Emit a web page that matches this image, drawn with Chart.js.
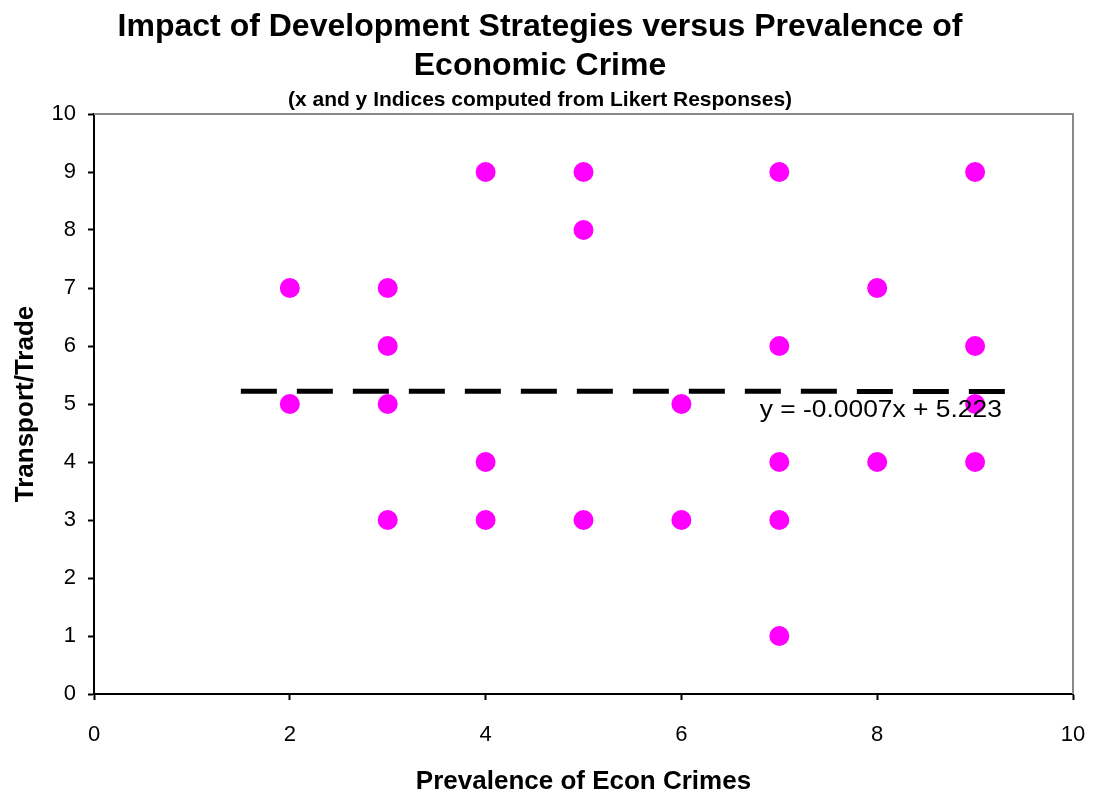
<!DOCTYPE html>
<html>
<head>
<meta charset="utf-8">
<title>Impact of Development Strategies versus Prevalence of Economic Crime</title>
<script src="https://cdn.jsdelivr.net/npm/chart.js@4.4.1/dist/chart.umd.min.js"></script>
<style>
  html, body { margin: 0; padding: 0; background: #ffffff; }
  #wrap { width: 1098px; height: 792px; }
</style>
</head>
<body>
<div id="wrap"><canvas id="chart" width="1098" height="792"></canvas></div>
<script>
// Survey indices (Likert-derived) for each respondent group
const crimeIndex     = [2, 2, 3, 3, 3, 3, 4, 4, 4, 5, 5, 5, 6, 6, 7, 7, 7, 7, 7, 8, 8, 9, 9, 9, 9];
const transportIndex = [7, 5, 7, 6, 5, 3, 9, 4, 3, 9, 8, 3, 5, 3, 9, 6, 4, 3, 1, 7, 4, 9, 6, 5, 4];

// Linear trend fitted to the indices
const trendSlope = -0.0007;
const trendIntercept = 5.223;
const trendSpan = [1.5, 9.34];
const trendLabelAt = [6.8, 4.776];

const titleLines = ['Impact of Development Strategies versus Prevalence of', 'Economic Crime'];
const subtitleText = '(x and y Indices computed from Likert Responses)';
const xAxisTitle = 'Prevalence of Econ Crimes';
const yAxisTitle = 'Transport/Trade';

const FONT = '"Liberation Sans", Arial, Helvetica, sans-serif';

const scatterPoints = crimeIndex.map((x, i) => ({ x: x, y: transportIndex[i] }));
const trendPoints = trendSpan.map(x => ({ x: x, y: trendSlope * x + trendIntercept }));
const trendText = 'y = ' + trendSlope + 'x + ' + trendIntercept;

// Headings above the plot
const headingPlugin = {
  id: 'headings',
  afterDraw(chart) {
    const ctx = chart.ctx;
    ctx.save();
    ctx.fillStyle = '#000';
    ctx.textAlign = 'center';
    ctx.textBaseline = 'alphabetic';
    ctx.font = 'bold 32px ' + FONT;
    ctx.fillText(titleLines[0], 540, 36);
    ctx.fillText(titleLines[1], 540, 75);
    ctx.font = 'bold 21px ' + FONT;
    ctx.fillText(subtitleText, 540, 106);
    ctx.restore();
  }
};

// Grey frame on the top and right of the plot area
const framePlugin = {
  id: 'frame',
  beforeDatasetsDraw(chart) {
    const { ctx, chartArea } = chart;
    ctx.save();
    ctx.strokeStyle = '#888888';
    ctx.lineWidth = 2;
    ctx.beginPath();
    ctx.moveTo(chartArea.left, chartArea.top);
    ctx.lineTo(chartArea.right, chartArea.top);
    ctx.lineTo(chartArea.right, chartArea.bottom);
    ctx.stroke();
    ctx.restore();
  }
};

// Equation of the trend line
const trendLabelPlugin = {
  id: 'trendLabel',
  afterDatasetsDraw(chart) {
    const { ctx, scales } = chart;
    const x = scales.x.getPixelForValue(trendLabelAt[0]);
    const y = scales.y.getPixelForValue(trendLabelAt[1]);
    ctx.save();
    ctx.fillStyle = '#000';
    ctx.font = '24px ' + FONT;
    ctx.textAlign = 'left';
    ctx.textBaseline = 'alphabetic';
    ctx.translate(x, y);
    ctx.scale(1.1, 1);
    ctx.fillText(trendText, 0, 0);
    ctx.restore();
  }
};

new Chart(document.getElementById('chart'), {
  type: 'scatter',
  data: {
    datasets: [
      {
        label: 'Indices',
        data: scatterPoints,
        backgroundColor: '#ff00ff',
        borderWidth: 0,
        pointRadius: 10,
        pointHoverRadius: 10
      },
      {
        type: 'line',
        label: 'Trend',
        data: trendPoints,
        borderColor: '#000000',
        borderWidth: 5,
        borderDash: [36, 20],
        pointRadius: 0,
        fill: false,
        tension: 0
      }
    ]
  },
  options: {
    responsive: false,
    animation: false,
    devicePixelRatio: 1,
    layout: { padding: { left: 0, right: 25, top: 114, bottom: 0 } },
    plugins: {
      legend: { display: false },
      tooltip: { enabled: false },
      title: { display: false }
    },
    scales: {
      x: {
        type: 'linear',
        min: 0,
        max: 10,
        ticks: { stepSize: 2, color: '#000', padding: 22, font: { family: FONT, size: 22 } },
        grid: { display: true, drawOnChartArea: false, drawTicks: true, tickLength: 6, tickColor: '#000', tickWidth: 2 },
        border: { display: true, color: '#000', width: 2 },
        title: { display: true, text: xAxisTitle, color: '#000', padding: { top: 0, bottom: 0 }, font: { family: FONT, size: 26, weight: 'bold', lineHeight: 0.8 } },
        afterFit(scale) {
          scale.height = 98;
          scale.paddingLeft = 0;
          scale.paddingRight = 0;
        }
      },
      y: {
        type: 'linear',
        min: 0,
        max: 10,
        ticks: { stepSize: 1, color: '#000', padding: 12, font: { family: FONT, size: 22 } },
        grid: { display: true, drawOnChartArea: false, drawTicks: true, tickLength: 6, tickColor: '#000', tickWidth: 2 },
        border: { display: true, color: '#000', width: 2 },
        title: { display: true, text: yAxisTitle, color: '#000', padding: { top: 15, bottom: 0 }, font: { family: FONT, size: 26, weight: 'bold', lineHeight: 0.8 } },
        afterFit(scale) {
          scale.width = 94;
          scale.paddingTop = 0;
          scale.paddingBottom = 0;
        }
      }
    }
  },
  plugins: [headingPlugin, framePlugin, trendLabelPlugin]
});
</script>
</body>
</html>
